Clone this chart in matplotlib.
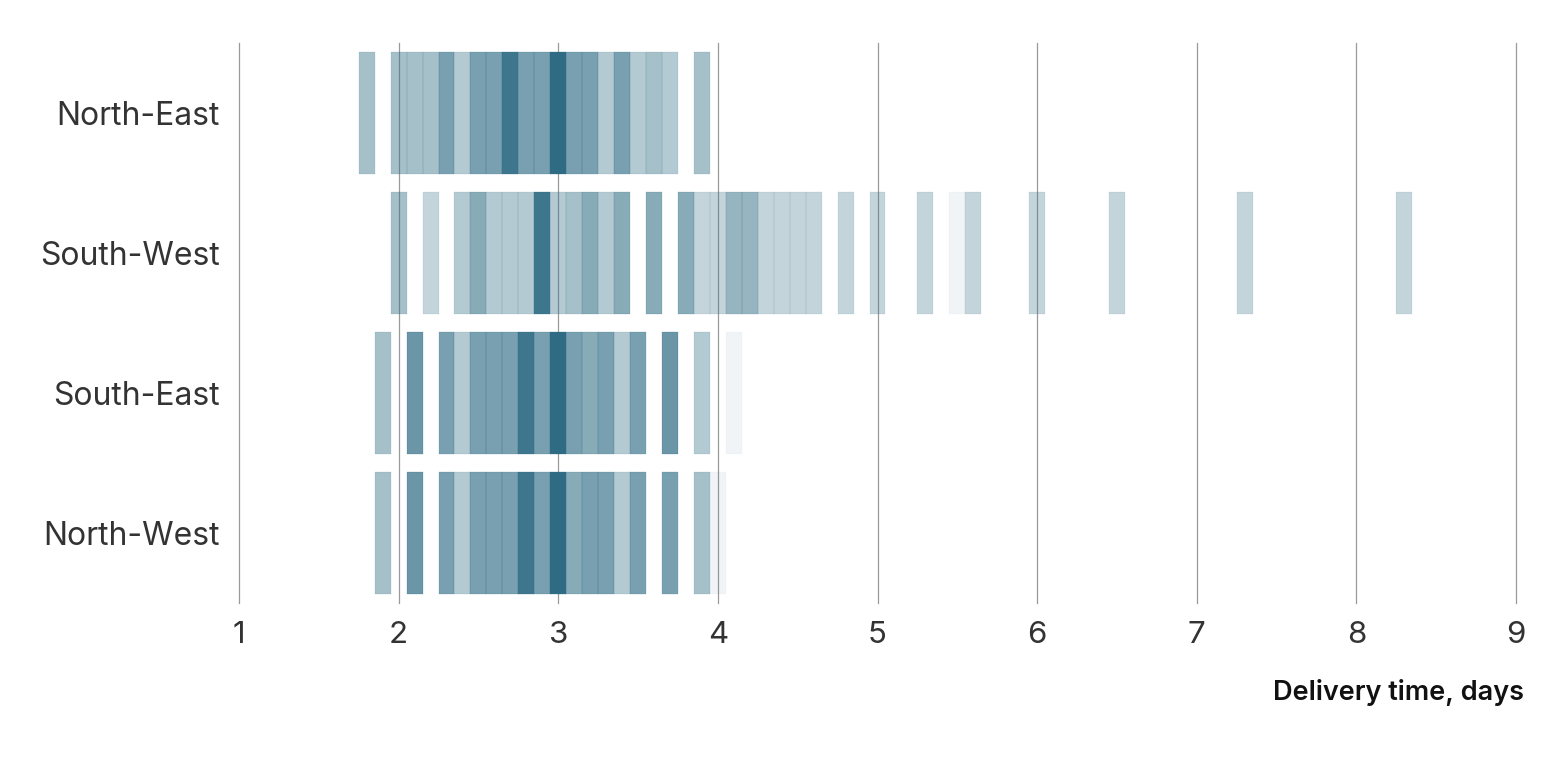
import matplotlib.pyplot as plt
import numpy as np
from matplotlib.colors import to_rgba

BASE_COLOR = "#2f6c84"

REGIONS = ["North-East", "South-West", "South-East", "North-West"]

# delivery time bins (days) and number of orders per bin, per region
NE_DAYS   = [1.8, 2.0, 2.1, 2.2, 2.3, 2.4, 2.5, 2.6, 2.7, 2.8, 2.9, 3.0, 3.1, 3.2,
             3.3, 3.4, 3.5, 3.6, 3.7, 3.9]
NE_COUNTS = [6, 6, 6, 6, 9, 5, 9, 9, 13, 9, 9, 14, 9, 9,
             5, 9, 5, 6, 5, 6]

SW_DAYS   = [2.0, 2.2, 2.4, 2.5, 2.6, 2.7, 2.8, 2.9, 3.0, 3.1, 3.2, 3.3, 3.4, 3.6,
             3.8, 3.9, 4.0, 4.1, 4.2, 4.3, 4.4, 4.5, 4.6, 4.8, 5.0, 5.3, 5.5, 5.6,
             6.0, 6.5, 7.3, 8.3]
SW_COUNTS = [6, 4, 5, 8, 5, 5, 5, 13, 5, 6, 8, 5, 8, 8,
             8, 4, 4, 7, 7, 4, 4, 4, 4, 4, 4, 4, 1, 4,
             4, 4, 4, 4]

SE_DAYS   = [1.9, 2.1, 2.3, 2.4, 2.5, 2.6, 2.7, 2.8, 2.9, 3.0, 3.1, 3.2, 3.3, 3.4,
             3.5, 3.7, 3.9, 4.1]
SE_COUNTS = [6, 10, 9, 5, 9, 9, 9, 13, 9, 14, 9, 8, 9, 5,
             9, 10, 5, 1]

NW_DAYS   = [1.9, 2.1, 2.3, 2.4, 2.5, 2.6, 2.7, 2.8, 2.9, 3.0, 3.1, 3.2, 3.3, 3.4,
             3.5, 3.7, 3.9, 4.0]
NW_COUNTS = [6, 10, 9, 5, 9, 9, 9, 13, 9, 14, 8, 9, 9, 5,
             9, 9, 6, 1]

X_TICKS = [1, 2, 3, 4, 5, 6, 7, 8, 9]


def main() -> None:
    plt.rcParams["font.family"] = ["Inter", "DejaVu Sans"]

    fig = plt.figure(figsize=[15.6, 7.61], dpi=100)
    axes = fig.add_axes([239 / 1560, 1 - 603 / 761, 1277 / 1560, 560 / 761])

    series = [
        (NE_DAYS, NE_COUNTS),
        (SW_DAYS, SW_COUNTS),
        (SE_DAYS, SE_COUNTS),
        (NW_DAYS, NW_COUNTS),
    ]
    max_count = max(max(c) for _, c in series)

    height = 0.865
    for row, (days, counts) in enumerate(series):
        colors = [to_rgba(BASE_COLOR, c / max_count) for c in counts]
        axes.bar(days, height, width=0.1, bottom=row - height / 2,
                 color=colors, edgecolor=colors, linewidth=0.2, zorder=2)

    axes.set_xlim(X_TICKS[0], X_TICKS[-1])
    axes.set_ylim(len(REGIONS) - 0.5, -0.5)

    axes.set_xticks(X_TICKS)
    axes.set_xticklabels([str(t) for t in X_TICKS])
    axes.set_yticks(np.arange(len(REGIONS)))
    axes.set_yticklabels(REGIONS)
    axes.tick_params(axis="x", length=0, pad=13, labelsize=22.5, labelcolor="#333333")
    axes.tick_params(axis="y", length=0, pad=14, labelsize=23, labelcolor="#333333")

    for spine in axes.spines.values():
        spine.set_visible(False)

    axes.grid(axis="x", color="#9a9a9a", linewidth=0.9, zorder=1)
    axes.set_axisbelow(True)
    for line in axes.get_xgridlines():
        line.set_clip_on(False)

    fig.text(1524 / 1560, 1 - 700 / 761, "Delivery time, days", ha="right",
             va="baseline", fontsize=19.5, fontweight="semibold", color="#111111")

    fig.savefig("out.png", dpi=100)


if __name__ == '__main__':
    main()
